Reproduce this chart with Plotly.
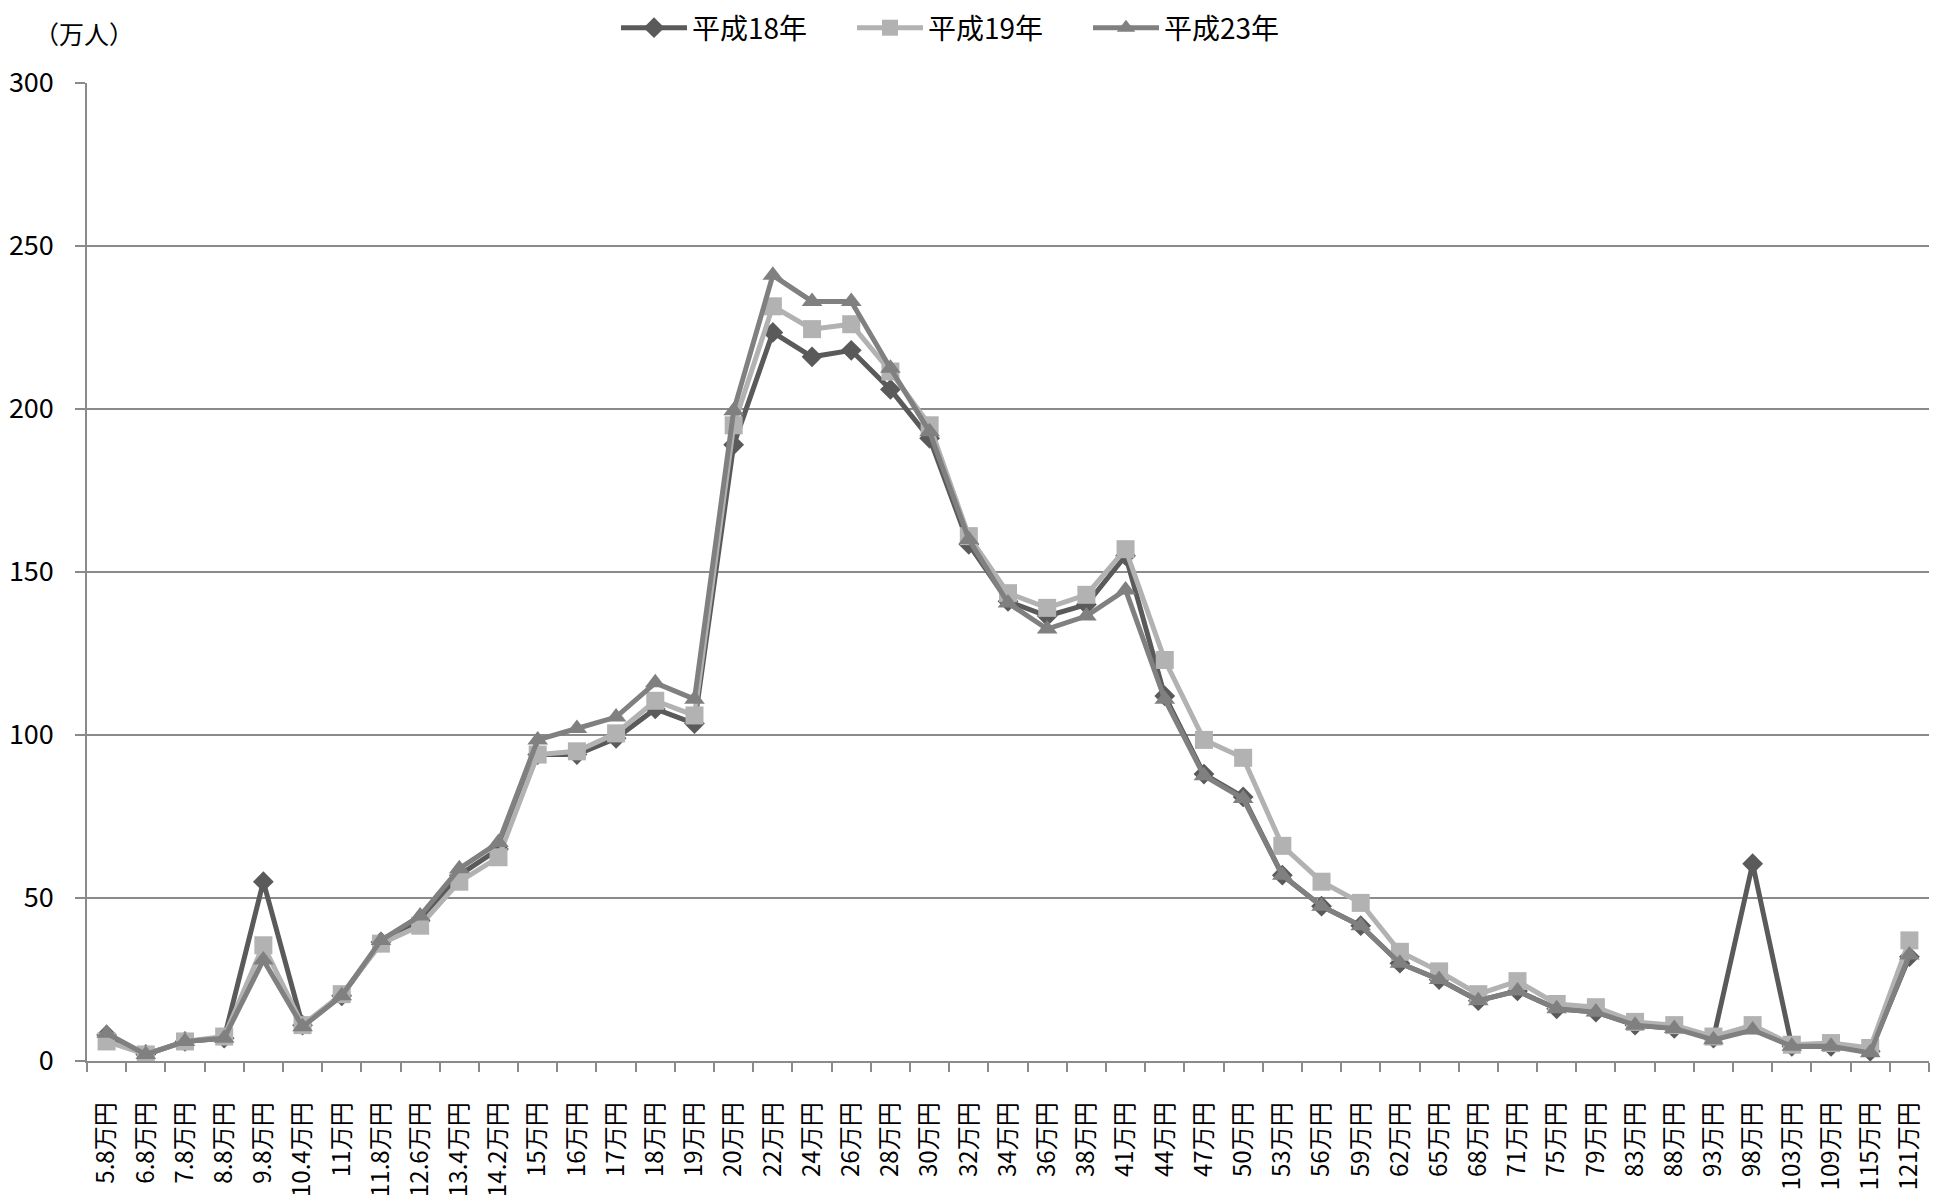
import plotly.graph_objects as go

categories = ["5.8万円", "6.8万円", "7.8万円", "8.8万円", "9.8万円", "10.4万円", "11万円", "11.8万円",
              "12.6万円", "13.4万円", "14.2万円", "15万円", "16万円", "17万円", "18万円", "19万円",
              "20万円", "22万円", "24万円", "26万円", "28万円", "30万円", "32万円", "34万円", "36万円",
              "38万円", "41万円", "44万円", "47万円", "50万円", "53万円", "56万円", "59万円", "62万円",
              "65万円", "68万円", "71万円", "75万円", "79万円", "83万円", "88万円", "93万円", "98万円",
              "103万円", "109万円", "115万円", "121万円"]

h18 = [8, 2, 6, 7, 55, 11, 20, 36.5, 43, 57, 65, 94, 94, 99, 108, 103.5,
       189, 223.5, 216, 218, 206, 191, 158.5, 141, 136.5, 140, 155, 112, 88, 81,
       57, 47.5, 41.5, 30, 25, 18.5, 21.5, 16, 15, 11, 10, 7, 60.5, 4.5, 4.5, 3, 32]
h19 = [6, 2, 6, 7.5, 35.5, 11, 20.5, 36, 41.5, 55, 62.5, 94, 95, 100.5, 110.5, 106,
       195, 231.5, 224.5, 226, 211.5, 195, 161, 143.5, 139, 143, 157, 123, 98.5, 93,
       66, 55, 48.5, 33.5, 27.5, 20.5, 24.5, 17.5, 16.5, 12, 11, 7.5, 11, 5, 5.5, 4, 37]
h23 = [8.5, 2, 6, 7, 31, 10.5, 20, 37, 44.5, 59, 67, 98.5, 102, 105.5, 116, 111,
       199.5, 241, 233, 233, 212.5, 193, 160, 140.5, 132.5, 136.5, 144.5, 111, 87.5, 80.5,
       57, 47.5, 41.5, 30, 25, 18.5, 21.5, 16, 15, 11, 10, 6.5, 9.5, 4.5, 4.5, 2.5, 32.5]

series_names = ["平成18年", "平成19年", "平成23年"]

FONT = "Noto Sans CJK JP"
GRID = "#8a8a8a"

fig = go.Figure()
fig.add_trace(go.Scatter(x=categories, y=h18, name=series_names[0], mode="lines+markers",
                         line=dict(color="#5a5a5a", width=5),
                         marker=dict(symbol="diamond", size=16, color="#5a5a5a")))
fig.add_trace(go.Scatter(x=categories, y=h19, name=series_names[1], mode="lines+markers",
                         line=dict(color="#b2b2b2", width=5),
                         marker=dict(symbol="square", size=18, color="#b2b2b2")))
fig.add_trace(go.Scatter(x=categories, y=h23, name=series_names[2], mode="lines+markers",
                         line=dict(color="#808080", width=5),
                         marker=dict(symbol="triangle-up", size=18, color="#808080")))

fig.update_layout(
    width=1945, height=1196,
    margin=dict(l=79, r=24, t=75, b=143, autoexpand=False),
    paper_bgcolor="white", plot_bgcolor="white",
    font=dict(family=FONT, color="black"),
    showlegend=True,
    legend=dict(orientation="h", xref="container", yref="container",
                x=608 / 1945, xanchor="left", y=1 - 20 / 1196, yanchor="middle",
                font=dict(size=28, family=FONT), entrywidth=155, itemwidth=66,
                bgcolor="rgba(0,0,0,0)"),
    xaxis=dict(type="category", tickson="boundaries", ticks="outside", ticklen=9,
               tickcolor=GRID, tickwidth=1.5, showline=True, linecolor=GRID, linewidth=1.5,
               showgrid=False, tickangle=-90, tickfont=dict(size=24, family=FONT),
               ticklabelstandoff=30, automargin=False, range=[-0.5, 46.5]),
    yaxis=dict(range=[0, 300], dtick=50, ticks="outside", ticklen=10, tickcolor=GRID,
               tickwidth=1.5, showline=True, linecolor=GRID, linewidth=1.5,
               showgrid=True, gridcolor=GRID, gridwidth=1.5, zeroline=False,
               ticklabelstandoff=16, automargin=False,
               tickfont=dict(size=27, family=FONT)),
    annotations=[dict(text="（万人）", xref="paper", yref="paper", x=-0.0299, y=1.0512,
                      xanchor="left", yanchor="middle", showarrow=False,
                      font=dict(size=25, family=FONT))],
)

fig.write_html("out.html")
